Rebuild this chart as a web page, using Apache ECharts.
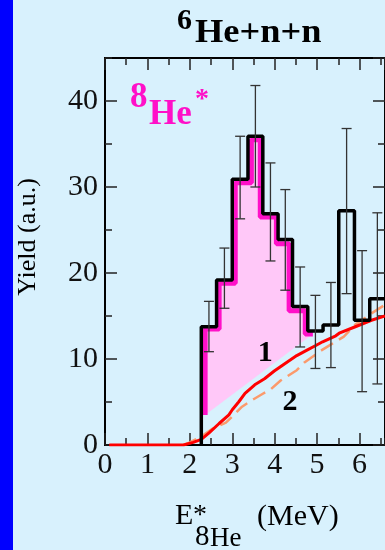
<!DOCTYPE html>
<html>
<head>
<meta charset="utf-8">
<title>6He+n+n</title>
<script src="https://cdn.jsdelivr.net/npm/echarts@6.0.0/dist/echarts.min.js"></script>
<style>
  html, body { margin: 0; padding: 0; background: #d8f1fd; }
  #chart { width: 385px; height: 550px; }
</style>
</head>
<body>
<div id="chart"></div>
<script>
// measured 6He+n+n spectrum (black histogram)
const binEdges = [2.27, 2.63, 3.0, 3.37, 3.72, 4.08, 4.42, 4.78, 5.14, 5.51, 5.88, 6.24, 6.6]
const yieldValues = [13.75, 19.2, 30.9, 35.9, 26.9, 23.9, 16.1, 13.25, 13.95, 27.25, 14.5, 17.0]
const errLow = [10.85, 15.9, 26.3, 30.0, 21.4, 18.0, 11.4, 8.9, 9.0, 17.6, 6.2, 7.1]
const errHigh = [16.7, 22.9, 35.9, 41.8, 32.8, 29.7, 20.7, 17.4, 18.9, 36.8, 22.6, 27.0]

// 8He* part (magenta step + shaded area "1")
const fitEdges = [2.36, 2.69, 3.07, 3.45, 3.66, 4.04, 4.34, 4.72, 4.9]
const fitValues = [13.5, 18.8, 30.5, 35.5, 26.5, 23.4, 15.6, 12.9]
const fitBase = [3.5, 12.9]

// background curves
const curveRed = [
  [0.1, 0], [1.85, 0], [2.08, 0.3], [2.27, 0.65], [2.46, 1.45], [2.69, 2.5],
  [2.92, 3.5], [3.0, 4.1], [3.15, 5.0], [3.3, 6.0], [3.53, 7.0], [3.76, 7.7],
  [3.99, 8.6], [4.22, 9.4], [4.52, 10.4], [4.75, 11.0], [4.98, 11.6], [5.13, 12.0],
  [5.44, 12.7], [5.52, 13.0], [5.9, 13.75], [6.28, 14.5], [6.6, 15.0]
]
const curveDashed = [
  [1.85, 0], [2.0, 0.3], [2.27, 1.0], [2.54, 1.9], [2.85, 2.6], [3.0, 3.3],
  [3.23, 4.45], [3.46, 5.2], [3.7, 5.9], [3.91, 6.5], [4.14, 7.5], [4.52, 8.7],
  [4.7, 9.6], [4.9, 10.3], [5.1, 11.0], [5.33, 11.7], [5.63, 12.6], [5.9, 14.0],
  [6.28, 15.3], [6.6, 16.3]
]
const curveLabels = [[3.78, 10.7, '1'], [4.36, 5.0, '2']]

const xRange = [0, 6.6]
const yRange = [0, 45]

const serif = '"Liberation Serif", "DejaVu Serif", serif'
const magenta = '#ff10c8'

// step outlines
const histLine = [[binEdges[0], 0]]
yieldValues.forEach((v, i) => histLine.push([binEdges[i], v]))
histLine.push([binEdges[binEdges.length - 1], yieldValues[yieldValues.length - 1]])

const fitLine = [[fitEdges[0], fitBase[0]]]
fitValues.forEach((v, i) => fitLine.push([fitEdges[i], v]))
fitLine.push([fitEdges[fitEdges.length - 1], fitValues[fitValues.length - 1]])

const fitOutline = [[fitEdges[0], fitBase[0]]]
fitValues.forEach((v, i) => {
  fitOutline.push([fitEdges[i], v])
  fitOutline.push([fitEdges[i + 1], v])
})
fitOutline.push([fitEdges[fitEdges.length - 1], fitBase[1]])

const errData = yieldValues.map((v, i) => [(binEdges[i] + binEdges[i + 1]) / 2, errLow[i], errHigh[i]])

function xAxisDef(pos, interval, len, labels) {
  return {
    type: 'value', position: pos, min: xRange[0], max: xRange[1], interval: interval,
    axisLine: { show: true, onZero: false, lineStyle: { color: '#000', width: 2 } },
    axisTick: { show: true, inside: true, length: len, lineStyle: { color: '#222', width: 1.5 } },
    axisLabel: {
      show: labels, showMaxLabel: false, margin: 5, color: '#111',
      fontFamily: serif, fontSize: 30
    },
    splitLine: { show: false }
  }
}

function yAxisDef(pos, interval, len, labels) {
  return {
    type: 'value', position: pos, min: yRange[0], max: yRange[1], interval: interval,
    axisLine: { show: true, onZero: false, lineStyle: { color: '#000', width: 2 } },
    axisTick: { show: true, inside: true, length: len, lineStyle: { color: '#222', width: 1.5 } },
    axisLabel: {
      show: labels, showMaxLabel: false, margin: 7, color: '#111',
      fontFamily: serif, fontSize: 30
    },
    splitLine: { show: false }
  }
}

function txt(text, x, y, font, fill, extra) {
  return Object.assign({
    type: 'text', x: x, y: y, z: 100,
    style: { text: text, font: font, fill: fill, align: 'left', verticalAlign: 'middle', textAlign: 'left', textVerticalAlign: 'middle' }
  }, extra || {})
}

const chart = echarts.init(document.getElementById('chart'))
chart.setOption({
  animation: false,
  backgroundColor: '#d8f1fd',
  grid: { left: 105, right: -9, top: 58, bottom: 105, containLabel: false },
  xAxis: [
    xAxisDef('bottom', 1, 12, true),
    xAxisDef('bottom', 0.5, 7, false),
    xAxisDef('top', 1, 12, false),
    xAxisDef('top', 0.5, 7, false)
  ],
  yAxis: [
    yAxisDef('left', 10, 12, true),
    yAxisDef('left', 5, 7, false),
    yAxisDef('right', 10, 12, false),
    yAxisDef('right', 5, 7, false)
  ],
  graphic: [
    { type: 'rect', shape: { x: 0, y: 0, width: 13, height: 550 }, style: { fill: '#0000ff' }, z: 100 },
    txt('6', 177, 21, 'bold 30px ' + serif, '#000'),
    txt('He+n+n', 195, 33, 'bold 34px ' + serif, '#000', { scaleX: 1.07 }),
    txt('8', 130, 97.5, 'bold 35px ' + serif, magenta),
    txt('He', 149, 115, 'bold 35px ' + serif, magenta),
    txt('*', 195, 100, 'bold 28px ' + serif, magenta),
    txt('E', 175, 516, '30px ' + serif, '#000'),
    txt('*', 193, 516, '28px ' + serif, '#000'),
    txt('8', 195, 537.5, '29px ' + serif, '#000'),
    txt('He', 210, 539, '27px ' + serif, '#000'),
    txt('(MeV)', 257, 517, '30px ' + serif, '#000'),
    {
      type: 'text', x: 28.5, y: 237, rotation: Math.PI / 2, z: 100,
      style: {
        text: 'Yield (a.u.)', font: '26px ' + serif, fill: '#000',
        align: 'center', verticalAlign: 'middle', textAlign: 'center', textVerticalAlign: 'middle'
      }
    }
  ],
  series: [
    {
      type: 'custom',
      clip: true,
      z: 1,
      data: [fitOutline[0]],
      renderItem: function (params, api) {
        return {
          type: 'polygon',
          shape: { points: fitOutline.map(p => api.coord(p)) },
          style: { fill: '#ffc8f8' }
        }
      }
    },
    {
      type: 'line', step: 'end', data: fitLine, showSymbol: false, z: 2,
      lineStyle: { color: magenta, width: 5 }
    },
    {
      type: 'line', data: curveDashed, showSymbol: false, z: 3,
      lineStyle: { color: '#fb9a6c', width: 2.5, type: [14, 7] }
    },
    {
      type: 'line', data: curveRed, showSymbol: false, z: 4,
      lineStyle: { color: '#ff0000', width: 3 }
    },
    {
      type: 'line', step: 'end', data: histLine, showSymbol: false, z: 5,
      lineStyle: { color: '#000', width: 3.5 }
    },
    {
      type: 'custom',
      z: 6,
      data: errData,
      renderItem: function (params, api) {
        const x = api.value(0)
        const lo = api.coord([x, api.value(1)])
        const hi = api.coord([x, api.value(2)])
        const st = { stroke: '#333', lineWidth: 1.3 }
        return {
          type: 'group',
          children: [
            { type: 'line', shape: { x1: lo[0], y1: lo[1], x2: hi[0], y2: hi[1] }, style: st },
            { type: 'line', shape: { x1: lo[0] - 5, y1: lo[1], x2: lo[0] + 5, y2: lo[1] }, style: st },
            { type: 'line', shape: { x1: hi[0] - 5, y1: hi[1], x2: hi[0] + 5, y2: hi[1] }, style: st }
          ]
        }
      }
    },
    {
      type: 'scatter', data: curveLabels, symbolSize: 0, z: 7,
      itemStyle: { opacity: 1 },
      label: {
        show: true, position: 'inside', formatter: p => p.data[2],
        fontFamily: serif, fontWeight: 'bold', fontSize: 30, color: '#000', opacity: 1
      }
    }
  ]
})
</script>
</body>
</html>
